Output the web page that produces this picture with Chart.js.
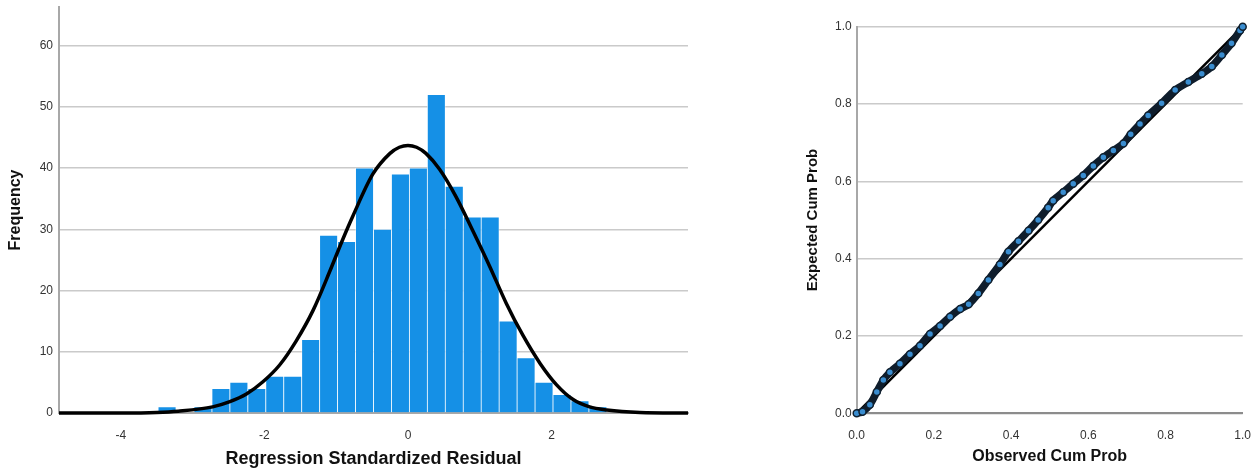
<!DOCTYPE html>
<html>
<head>
<meta charset="utf-8">
<script src="https://cdn.jsdelivr.net/npm/chart.js@4.4.1/dist/chart.umd.min.js"></script>
<style>
  html, body { margin: 0; padding: 0; background: #fff; }
  body { width: 1254px; height: 470px; position: relative; overflow: hidden; }
  #histChart { position: absolute; left: 0; top: 0; }
  #ppChart { position: absolute; left: 760px; top: 0; }
</style>
</head>
<body>
<canvas id="histChart" width="700" height="470"></canvas>
<canvas id="ppChart" width="494" height="470"></canvas>
<script>
// histogram bins (centre of each 0.25 wide bin) and counts
const binCenters = [-3.355, -3.105, -2.855, -2.605, -2.355, -2.105, -1.855, -1.605, -1.355, -1.105,
  -0.855, -0.605, -0.355, -0.105, 0.145, 0.395, 0.645, 0.895, 1.145, 1.395,
  1.645, 1.895, 2.145, 2.395, 2.645];
const binCounts = [1, 0, 1, 4, 5, 4, 6, 6, 12, 29, 28, 40, 30, 39, 40, 52, 37, 32, 32, 15, 9, 5, 3, 2, 1];

// normal curve
const curveX = [-4.86, -4.0, -3.5, -3.2, -2.72, -2.48, -2.25, -2.02, -1.79, -1.56, -1.32, -1.09, -0.91, -0.77,
  -0.49, -0.25, -0.12, 0.0, 0.12, 0.25, 0.44, 0.67, 0.91, 1.14, 1.37, 1.60, 1.84, 2.07, 2.30, 2.53, 2.77, 3.23, 3.9];
const curveY = [0, 0.01, 0.1, 0.3, 1.0, 1.85, 3.1, 5.1, 7.8, 11.7, 16.8, 23.1, 28.3, 32.1,
  39.0, 42.4, 43.4, 43.7, 43.4, 42.4, 39.8, 35.3, 29.6, 23.9, 17.9, 12.7, 8.1, 4.6, 2.2, 1.0, 0.5, 0.1, 0];

const histXTicks = [-4, -2, 0, 2];
const histYTicks = [0, 10, 20, 30, 40, 50, 60];

// P-P plot
const ppObserved = [0.000, 0.015, 0.034, 0.052, 0.069, 0.086, 0.112, 0.138, 0.164, 0.190, 0.216, 0.242, 0.268,
  0.290, 0.315, 0.341, 0.371, 0.393, 0.419, 0.445, 0.470, 0.496, 0.509, 0.535, 0.561, 0.587, 0.613,
  0.639, 0.665, 0.691, 0.710, 0.734, 0.755, 0.790, 0.825, 0.859, 0.894, 0.920, 0.946, 0.971, 0.993, 1.000];
const ppExpected = [0.000, 0.004, 0.022, 0.055, 0.086, 0.106, 0.128, 0.153, 0.175, 0.205, 0.226, 0.250, 0.270,
  0.282, 0.310, 0.345, 0.385, 0.418, 0.445, 0.472, 0.500, 0.532, 0.550, 0.572, 0.594, 0.615, 0.640,
  0.662, 0.680, 0.698, 0.722, 0.748, 0.770, 0.802, 0.836, 0.857, 0.878, 0.897, 0.927, 0.957, 0.990, 1.000];
const diagonal = [0, 1];
const ppTicks = [0, 0.2, 0.4, 0.6, 0.8, 1];

Chart.defaults.font.family = "'Liberation Sans', Arial, sans-serif";
Chart.defaults.color = '#333';
Chart.defaults.animation = false;
Chart.defaults.plugins.legend.display = false;
Chart.defaults.plugins.tooltip.enabled = false;

const gridGray = '#cacaca';
const axisGray = '#a8a8a8';
const tickFont = { size: 12 };

// keep the plot area where the reference has it
function noEdgePadding(s) {
  s.paddingTop = 0;
  s.paddingBottom = 0;
  s.paddingLeft = 0;
  s.paddingRight = 0;
}

const histCtx = document.getElementById('histChart').getContext('2d');
const histChart = new Chart(histCtx, {
  type: 'bar',
  data: {
    datasets: [{
      type: 'line',
      data: curveX.map((x, i) => ({ x: x, y: curveY[i] })),
      borderColor: '#000',
      borderWidth: 3.5,
      pointRadius: 0,
      cubicInterpolationMode: 'monotone',
      clip: false,
      order: 0
    }, {
      data: binCenters.map((x, i) => ({ x: x, y: binCounts[i] })),
      backgroundColor: '#1590e6',
      borderColor: 'rgba(255, 255, 255, 0.7)',
      borderWidth: { left: 0.75, right: 0.75, top: 0.75, bottom: 0 },
      borderSkipped: false,
      barPercentage: 1,
      categoryPercentage: 1,
      grouped: false,
      order: 1
    }]
  },
  options: {
    responsive: false,
    layout: { padding: { top: 7, right: 12, left: 0, bottom: 0 } },
    scales: {
      x: {
        type: 'linear',
        min: -4.86,
        max: 3.9,
        offset: false,
        grid: { display: false, offset: false },
        border: { color: axisGray, width: 2 },
        afterBuildTicks: s => { s.ticks = histXTicks.map(v => ({ value: v })); },
        afterFit: s => { s.height = 57; noEdgePadding(s); },
        ticks: { padding: 7, font: tickFont, color: '#333', maxRotation: 0, callback: v => String(v) },
        title: { display: true, text: 'Regression Standardized Residual', font: { size: 18, weight: 'bold' }, color: '#111', padding: { top: 0, bottom: 0 } }
      },
      y: {
        min: 0,
        max: 66.3,
        grid: { color: gridGray, lineWidth: 1.5, drawTicks: false },
        border: { color: axisGray, width: 2 },
        afterBuildTicks: s => { s.ticks = histYTicks.map(v => ({ value: v })); },
        afterFit: s => { s.width = 59; noEdgePadding(s); },
        ticks: { padding: 6, font: tickFont, color: '#333', callback: v => String(v) },
        title: { display: true, text: 'Frequency', font: { size: 16, weight: 'bold' }, color: '#111', padding: { top: 6.4, bottom: 0 } }
      }
    }
  }
});

const ppCtx = document.getElementById('ppChart').getContext('2d');
const ppChart = new Chart(ppCtx, {
  type: 'scatter',
  data: {
    datasets: [{
      data: ppObserved.map((x, i) => ({ x: x, y: ppExpected[i] })),
      showLine: true,
      borderColor: '#0f1d2c',
      borderWidth: 7.5,
      tension: 0.3,
      pointRadius: 3.5,
      pointBackgroundColor: '#3a8dd0',
      pointBorderColor: '#10202f',
      pointBorderWidth: 1.5,
      clip: false,
      order: 0
    }, {
      data: diagonal.map(v => ({ x: v, y: v })),
      showLine: true,
      borderColor: '#000',
      borderWidth: 2.5,
      pointRadius: 0,
      clip: false,
      order: 1
    }]
  },
  options: {
    responsive: false,
    layout: { padding: { top: 26.7, right: 11.3, left: 0, bottom: 0 } },
    scales: {
      x: {
        type: 'linear',
        min: 0,
        max: 1,
        grid: { display: false },
        border: { color: '#8c8c8c', width: 2 },
        afterBuildTicks: s => { s.ticks = ppTicks.map(v => ({ value: v })); },
        afterFit: s => { s.height = 56.7; noEdgePadding(s); },
        ticks: { padding: 7, font: tickFont, color: '#333', maxRotation: 0, callback: v => v.toFixed(1) },
        title: { display: true, text: 'Observed Cum Prob', font: { size: 16, weight: 'bold' }, color: '#111', padding: { top: 0, bottom: 3.4 } }
      },
      y: {
        min: 0,
        max: 1,
        grid: { color: gridGray, lineWidth: 1.5, drawTicks: false },
        border: { color: axisGray, width: 2 },
        afterBuildTicks: s => { s.ticks = ppTicks.map(v => ({ value: v })); },
        afterFit: s => { s.width = 96.7; noEdgePadding(s); },
        ticks: { padding: 5, font: tickFont, color: '#333', callback: v => v.toFixed(1) },
        title: { display: true, text: 'Expected Cum Prob', font: { size: 15, weight: 'bold' }, color: '#111', padding: { top: 44, bottom: 0 } }
      }
    }
  }
});
</script>
</body>
</html>
